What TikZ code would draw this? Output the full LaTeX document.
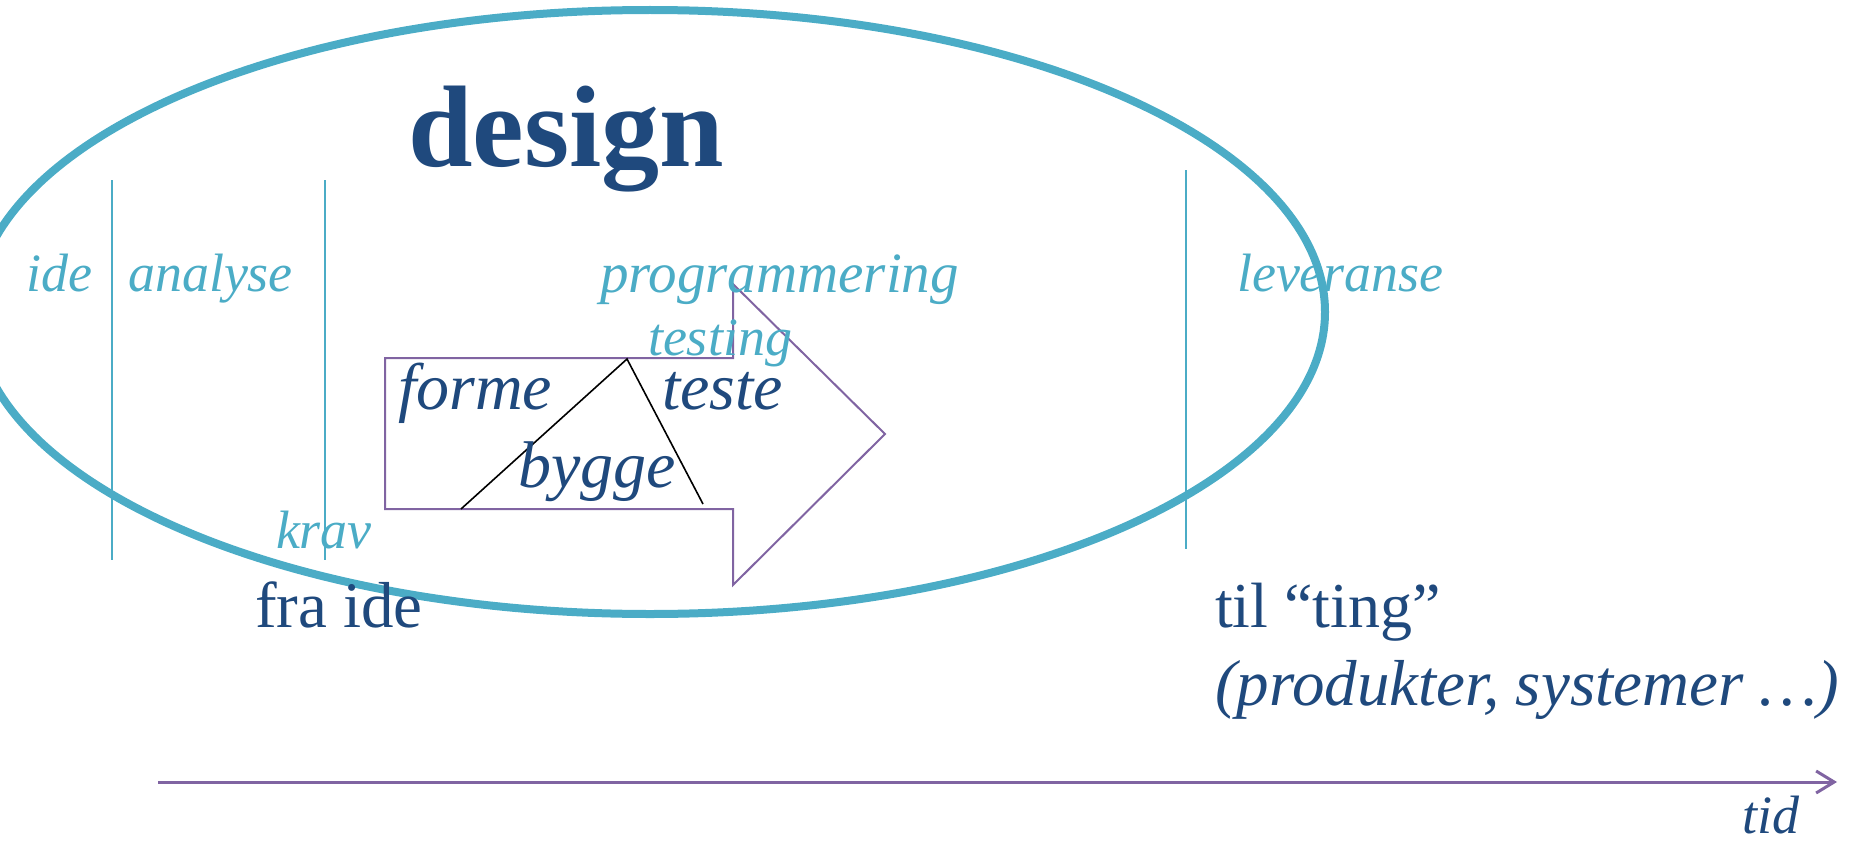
\documentclass[tikz,border=0pt]{standalone}
\usepackage{fontspec}
\setmainfont{Liberation Serif}
\usetikzlibrary{arrows.meta}
\definecolor{dblue}{HTML}{1F497D}
\definecolor{lblue}{HTML}{4BACC6}
\definecolor{lpurple}{HTML}{8064A2}
\tikzset{
  lbl/.style={inner sep=0pt, outer sep=0pt, anchor=base west, text=lblue, font=\fontsize{54}{60}\selectfont\itshape},
  dlbl/.style={inner sep=0pt, outer sep=0pt, anchor=base west, text=dblue, font=\fontsize{66}{70}\selectfont\itshape},
  dup/.style={inner sep=0pt, outer sep=0pt, anchor=base west, text=dblue, font=\fontsize{65}{70}\selectfont},
  titlelbl/.style={inner sep=0pt, outer sep=0pt, anchor=base west, text=dblue, font=\fontsize{116}{120}\selectfont\bfseries},
  phase/.style={draw=lblue, line width=2.5pt},
  blockarrow/.style={draw=lpurple, line width=2pt, line join=miter},
  cycle line/.style={draw=black, line width=1.6pt}
}
\begin{document}
\begin{tikzpicture}[x=1pt,y=-1pt]
\useasboundingbox (0,0) rectangle (1853,843);
\clip (0,0) rectangle (1853,843);
% big ellipse
\draw[lblue, line width=8pt] (650,312) ellipse [x radius=675, y radius=302];
% phase separators
\coordinate (s1t) at (112,180); \coordinate (s1b) at (112,560);
\coordinate (s2t) at (325,180); \coordinate (s2b) at (325,560);
\coordinate (s3t) at (1186,170); \coordinate (s3b) at (1186,549);
\draw[phase] (s1t) -- (s1b);
\draw[phase] (s2t) -- (s2b);
\draw[phase] (s3t) -- (s3b);
% block arrow
\draw[blockarrow] (385,358) -- (733,358) -- (733,284) -- (885,434) -- (733,585) -- (733,509) -- (385,509) -- cycle;
% black triangle lines
\coordinate (tl) at (461,509);
\coordinate (ta) at (627,359);
\coordinate (tr) at (703,504);
\draw[cycle line] (tl) -- (ta) -- (tr);
% labels
\node[titlelbl] (design) at (408,166) {design};
\node[lbl] (ide) at (26,291) {ide};
\node[lbl] (analyse) at (128,291) {analyse};
\node[lbl, font=\fontsize{57}{60}\selectfont\itshape] (prog) at (600,292) {programmering};
\node[lbl] (lev) at (1237,291) {leveranse};
\node[lbl] (testing) at (648,355) {testing};
\node[lbl] (krav) at (276,548) {krav};
\node[dlbl] (forme) at (398,409) {forme};
\node[dlbl] (teste) at (662,409) {teste};
\node[dlbl] (bygge) at (518,487) {bygge};
\node[dup] (fra) at (255,627) {fra ide};
\node[dup, font=\fontsize{64}{70}\selectfont] (til) at (1215,627) {til “ting”};
\node[dlbl, font=\fontsize{65}{70}\selectfont\itshape] (prod) at (1215,705) {(produkter, systemer …)};
\node[lbl, text=dblue] (tid) at (1742,833) {tid};
% time axis
\coordinate (t0) at (158,782);
\coordinate (t1) at (1837,782);
\draw[lpurple, line width=3pt, -{Straight Barb[length=18pt,width=22pt]}] (t0) -- (t1);
\end{tikzpicture}
\end{document}
